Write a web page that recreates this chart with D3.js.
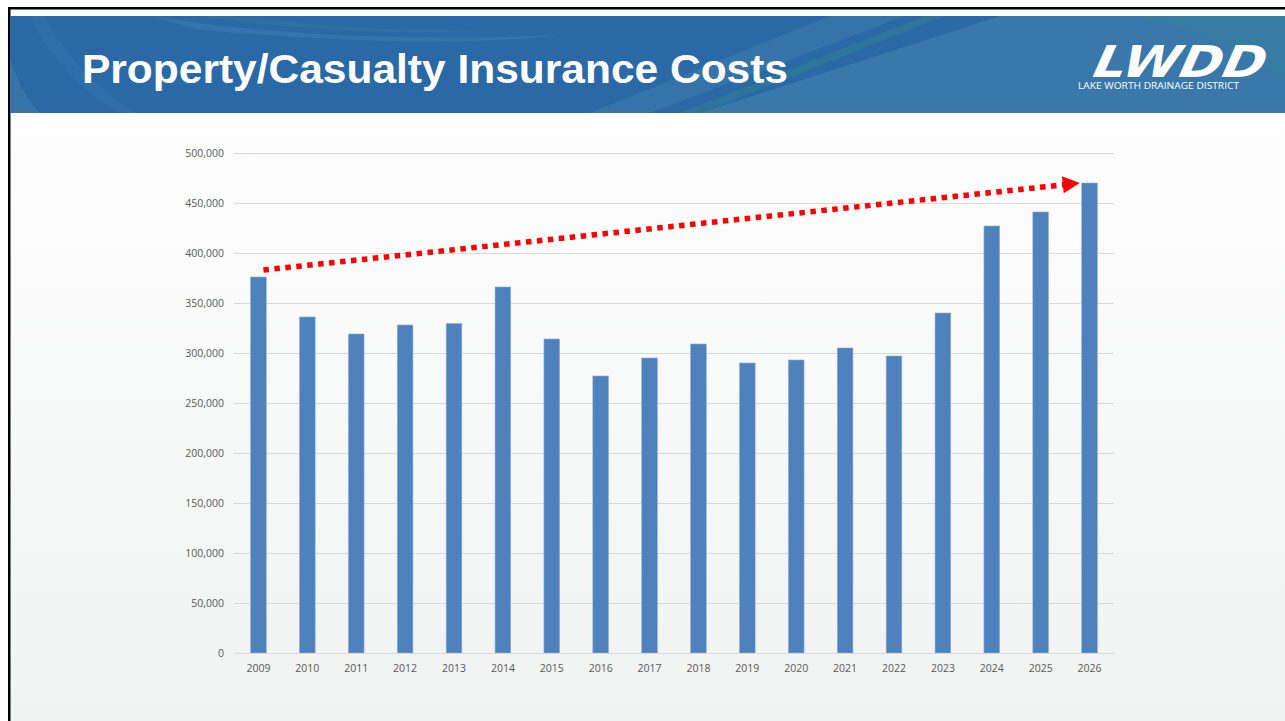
<!DOCTYPE html>
<html><head><meta charset="utf-8">
<script src="https://cdn.jsdelivr.net/npm/d3@7"></script>
<style>html,body{margin:0;padding:0;background:#fff;overflow:hidden}</style>
</head><body>
<svg id="c" width="1285" height="721"></svg>
<script>
const years = ["2009","2010","2011","2012","2013","2014","2015","2016","2017","2018","2019","2020","2021","2022","2023","2024","2025","2026"];
const costs = [376000,336000,319000,328000,329500,366000,314000,277000,295000,309000,290000,293000,305000,297000,340000,427000,441000,470000];
const yTicks = [0,50000,100000,150000,200000,250000,300000,350000,400000,450000,500000];
const trendFrom = {year:"2009", value:382000};
const trendTo = {year:"2026", value:470000};
const titleText = "Property/Casualty Insurance Costs";

const svg = d3.select("#c");
const defs = svg.append("defs");
const bg = defs.append("linearGradient").attr("id","bg").attr("x1",0).attr("y1",0).attr("x2",0).attr("y2",1);
bg.append("stop").attr("offset","0%").attr("stop-color","#fefefe");
bg.append("stop").attr("offset","100%").attr("stop-color","#f1f2f2");
defs.append("clipPath").attr("id","hdr").append("rect").attr("x",10).attr("y",16).attr("width",1275).attr("height",97);

// frame
svg.append("rect").attr("x",0).attr("y",0).attr("width",1285).attr("height",721).attr("fill","#fff");
svg.append("rect").attr("x",10).attr("y",113).attr("width",1275).attr("height",608).attr("fill","url(#bg)");
svg.append("rect").attr("x",8).attr("y",7).attr("width",1277).attr("height",2.5).attr("fill","#000");
svg.append("rect").attr("x",8).attr("y",7).attr("width",2.5).attr("height",714).attr("fill","#000");

// header
const h = svg.append("g").attr("clip-path","url(#hdr)");
h.append("rect").attr("x",10).attr("y",16).attr("width",1275).attr("height",97).attr("fill","#2a69a5");
h.append("path").attr("d","M700,113 L1000,16 L1285,16 L1285,113 Z").attr("fill","#3a77ab");
h.append("path").attr("d","M590,113 L830,16 L905,16 L650,113 Z").attr("fill","#3674aa").attr("opacity",0.9);
h.append("path").attr("d","M680,113 L925,16 L945,16 L700,113 Z").attr("fill","#2f7b95").attr("opacity",0.7);
h.append("path").attr("d","M150,16 Q330,45 560,35 Q440,50 200,30 Z").attr("fill","#3b7bb2").attr("opacity",0.6);
h.append("path").attr("d","M200,16 Q350,38 520,30 Q380,34 230,16 Z").attr("fill","#2f7b95").attr("opacity",0.5);
h.append("path").attr("d","M10,60 Q25,100 40,113 L10,113 Z").attr("fill","#3674aa");
h.append("path").attr("d","M30,16 Q60,80 120,113 L135,113 Q70,70 45,16 Z").attr("fill","#3271ab").attr("opacity",0.6);
h.append("path").attr("d","M1140,16 Q1230,40 1285,80 L1285,16 Z").attr("fill","#33819a").attr("opacity",0.5);

svg.append("text").attr("x",82).attr("y",83).text(titleText)
  .attr("font-family","Liberation Sans, Arial, sans-serif").attr("font-weight","bold")
  .attr("font-size",40).attr("fill","#fff").attr("textLength",706).attr("lengthAdjust","spacingAndGlyphs");

// logo
svg.append("text").attr("x",1092).attr("y",77).text("LWDD")
  .attr("font-family","DejaVu Sans, sans-serif").attr("font-weight","bold").attr("font-style","italic")
  .attr("font-size",44).attr("fill","#fff").attr("textLength",172).attr("lengthAdjust","spacingAndGlyphs")
  .attr("transform","skewX(-12) translate(16,0)");
svg.append("text").attr("x",1078).attr("y",89).text("LAKE WORTH DRAINAGE DISTRICT")
  .attr("font-family","Open Sans, sans-serif").attr("font-size",8.5).attr("fill","#fff")
  .attr("textLength",161).attr("lengthAdjust","spacingAndGlyphs");

// chart
const x = d3.scaleBand().domain(years).range([234,1114]).paddingInner(0.68).paddingOuter(0.34);
const y = d3.scaleLinear().domain([0,500000]).range([653,153]);

const grid = svg.append("g").attr("transform","translate(234,0)")
  .call(d3.axisLeft(y).tickValues(yTicks).tickSize(-880).tickFormat(""));
grid.select(".domain").remove();
grid.selectAll("line").attr("stroke","#d9d9d9").attr("stroke-width",1);

const ya = svg.append("g").attr("transform","translate(224,0)")
  .call(d3.axisLeft(y).tickValues(yTicks).tickSize(0).tickPadding(0).tickFormat(d3.format(",")));
ya.select(".domain").remove();
ya.selectAll("text").attr("font-family","Open Sans, sans-serif").attr("font-size",10.5).attr("fill","#595959");

svg.append("g").selectAll("rect").data(years).join("rect")
  .attr("x",d=>x(d)).attr("width",x.bandwidth())
  .attr("y",(d,i)=>y(costs[i])).attr("height",(d,i)=>y(0)-y(costs[i]))
  .attr("fill","#4f81bd").attr("stroke","#8eaedb").attr("stroke-width",0.6);

const xa = svg.append("g").attr("transform","translate(0,653)")
  .call(d3.axisBottom(x).tickSize(0).tickPadding(12));
xa.select(".domain").attr("stroke","#d9d9d9");
xa.selectAll("text").attr("font-family","Open Sans, sans-serif").attr("font-size",10.5).attr("fill","#595959");

// trend arrow
const x0 = x(trendFrom.year) + x.bandwidth()/2 + 5, y0 = y(trendFrom.value) - 1;
const x1 = x(trendTo.year) - 2, y1 = y(trendTo.value);
const ang = Math.atan2(y1-y0, x1-x0);
const L = 17, W = 8.5;
const bx = x1 - L*Math.cos(ang), by = y1 - L*Math.sin(ang);
svg.append("line").attr("x1",x0).attr("y1",y0).attr("x2",bx+1).attr("y2",by)
  .attr("stroke","#ff0000").attr("stroke-width",5.5).attr("stroke-dasharray","5.5 5.5");
const px = -Math.sin(ang), py = Math.cos(ang);
svg.append("path").attr("d",`M${x1},${y1} L${bx+W*px},${by+W*py} L${bx-W*px},${by-W*py} Z`).attr("fill","#ff0000");
</script>
</body></html>
